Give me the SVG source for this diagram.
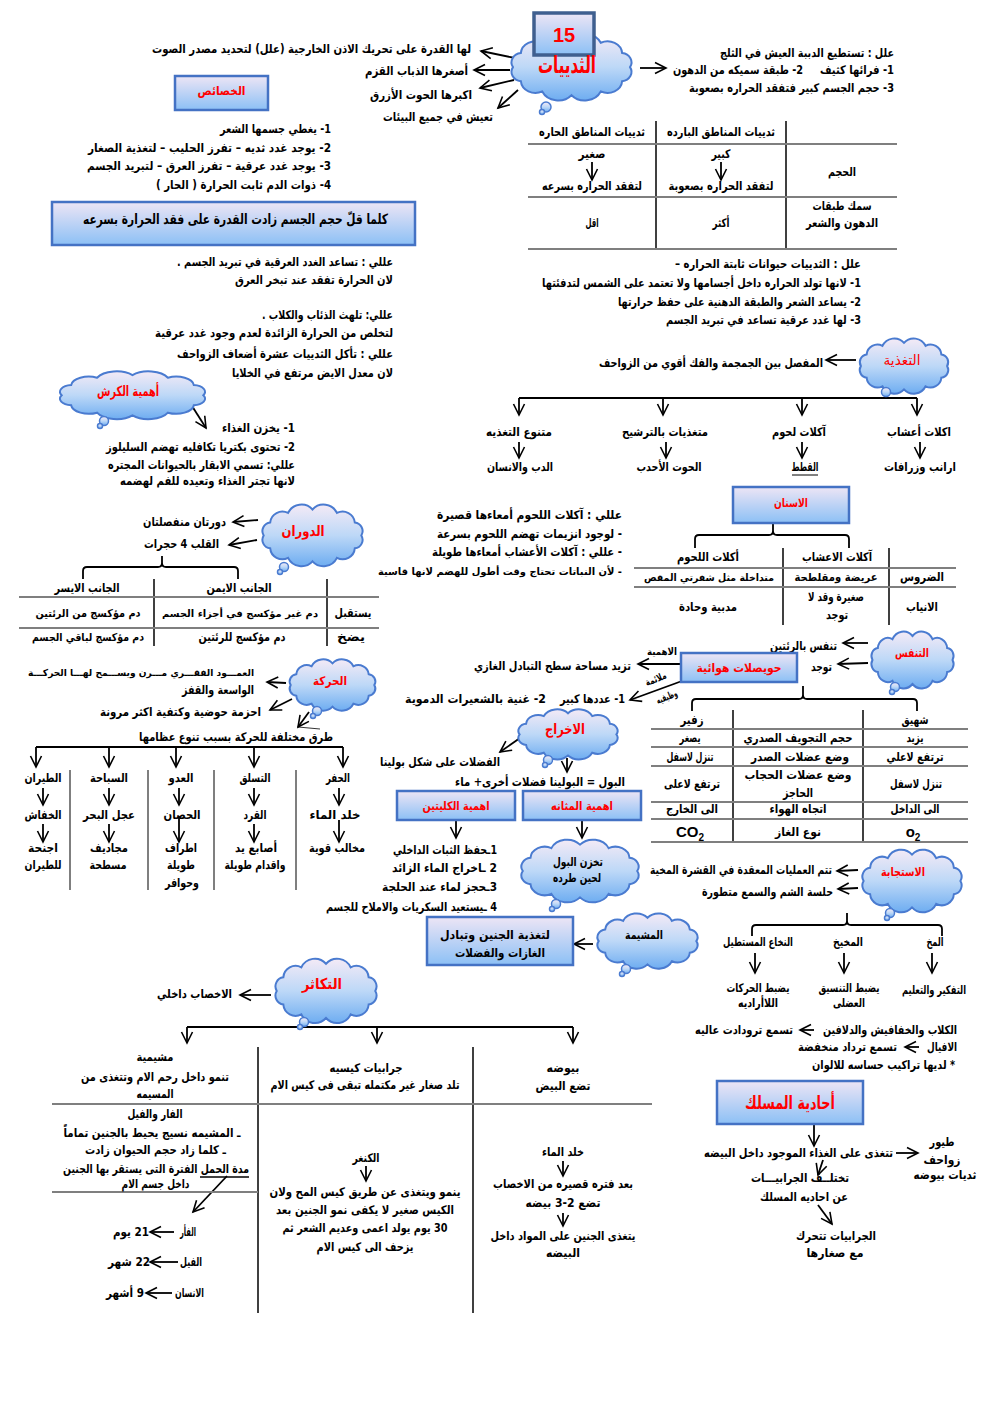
<svg xmlns="http://www.w3.org/2000/svg" width="992" height="1402" viewBox="0 0 992 1402">
<defs>
<linearGradient id="gc" x1="0" y1="0" x2="0" y2="1"><stop offset="0" stop-color="#F4EAF6"/><stop offset="0.5" stop-color="#BDD8F7"/><stop offset="1" stop-color="#6EADF1"/></linearGradient>
<linearGradient id="gb" x1="0" y1="0" x2="0" y2="1"><stop offset="0" stop-color="#EDE5F5"/><stop offset="1" stop-color="#8CC0F5"/></linearGradient>
<path id="cl" vector-effect="non-scaling-stroke" d="M6,30 A8,8 0 0 1 11.9,18 A11,11 0 0 1 28,9.2 A13.3,13.3 0 0 1 50,6 A13.3,13.3 0 0 1 72,9.2 A11,11 0 0 1 88.1,18 A8,8 0 0 1 94,30 A8,8 0 0 1 88.1,42 A11,11 0 0 1 72,50.8 A13.3,13.3 0 0 1 50,54 A13.3,13.3 0 0 1 28,50.8 A11,11 0 0 1 11.9,42 A8,8 0 0 1 6,30 Z"/>
<marker id="ah" viewBox="0 0 12 12" refX="11" refY="6" markerWidth="12" markerHeight="12" markerUnits="userSpaceOnUse" orient="auto" overflow="visible"><path d="M0,0.5 L11,6 L0,11.5" fill="none" stroke="#000" stroke-width="1.6"/></marker>
</defs>
<style>
text{font-family:'DejaVu Sans','Liberation Sans',sans-serif;font-weight:bold;font-size:12px;fill:#000;direction:rtl;text-anchor:middle}
.rd{fill:#F00}
.t14{font-size:14px}
.t11{font-size:11px}
.t10{font-size:10px}
.sm{font-size:10px}
.lt{font-family:'Liberation Sans',sans-serif;direction:ltr}
.cl{fill:url(#gc);stroke:#4A7BD0;stroke-width:2}
.bx{fill:url(#gb);stroke:#4472C4;stroke-width:2.5}
.bub{fill:url(#gc);stroke:#4A7BD0;stroke-width:1.5}
.ln{stroke:#000;stroke-width:1.8;fill:none}
.a{stroke:#000;stroke-width:1.8;fill:none;marker-end:url(#ah)}
.gl{stroke:#7F7F7F;stroke-width:2}
.vl{stroke:#000;stroke-width:1.5}
</style>
<rect width="992" height="1402" fill="#fff"/>

<g id="connectors">
<line class="a" x1="515" y1="58" x2="481" y2="51"/>
<line class="a" x1="510" y1="70" x2="474" y2="70"/>
<line class="a" x1="514" y1="80" x2="480" y2="88"/>
<line class="a" x1="518" y1="90" x2="498" y2="108"/>
<line class="a" x1="640" y1="68" x2="666" y2="68"/>
<line class="a" x1="592" y1="162" x2="592" y2="180"/>
<line class="a" x1="721" y1="162" x2="721" y2="180"/>
<line class="a" x1="192" y1="406" x2="206" y2="428"/>
<line class="a" x1="856" y1="360" x2="826" y2="360"/>
<line class="ln" x1="519" y1="398" x2="917" y2="398"/>
<line class="a" x1="519" y1="398" x2="519" y2="415"/>
<line class="a" x1="663" y1="398" x2="663" y2="415"/>
<line class="a" x1="802" y1="398" x2="802" y2="415"/>
<line class="a" x1="917" y1="398" x2="917" y2="415"/>
<line class="a" x1="519" y1="442" x2="519" y2="458"/>
<line class="a" x1="666" y1="442" x2="666" y2="458"/>
<line class="a" x1="802" y1="442" x2="802" y2="458"/>
<line class="a" x1="920" y1="442" x2="920" y2="458"/>
<path class="ln" d="M695,548 V539 Q695,535 699,535 H769 Q773,535 773,531 V523 M773,531 Q773,535 777,535 H845 Q849,535 849,539 V548"/>
<line class="a" x1="258" y1="520" x2="233" y2="522"/>
<line class="a" x1="257" y1="540" x2="229" y2="545"/>
<path class="ln" d="M83,579 V571 Q83,567 87,567 H158 Q162,567 162,563 V556 M162,563 Q162,567 166,567 H234 Q238,567 238,571 V579"/>
<line class="a" x1="286" y1="683" x2="267" y2="682"/>
<line class="a" x1="292" y1="699" x2="270" y2="710"/>
<line class="a" x1="309" y1="712" x2="298" y2="727"/>
<line x1="298" y1="727" x2="320" y2="729" stroke="#000" stroke-width="0.8"/>
<line class="ln" x1="36" y1="747" x2="343" y2="747"/>
<line class="a" x1="36" y1="747" x2="36" y2="767"/>
<line class="a" x1="109" y1="747" x2="109" y2="767"/>
<line class="a" x1="176" y1="747" x2="176" y2="767"/>
<line class="a" x1="254" y1="747" x2="254" y2="767"/>
<line class="a" x1="343" y1="747" x2="343" y2="767"/>
<line class="a" x1="43" y1="788" x2="43" y2="805"/>
<line class="a" x1="109" y1="788" x2="109" y2="805"/>
<line class="a" x1="179" y1="788" x2="179" y2="805"/>
<line class="a" x1="254" y1="788" x2="254" y2="805"/>
<line class="a" x1="339" y1="788" x2="339" y2="805"/>
<line class="a" x1="43" y1="824" x2="43" y2="842"/>
<line class="a" x1="109" y1="824" x2="109" y2="842"/>
<line class="a" x1="179" y1="816" x2="179" y2="842"/>
<line class="a" x1="254" y1="824" x2="254" y2="842"/>
<line class="a" x1="339" y1="820" x2="339" y2="842"/>
<line class="a" x1="868" y1="643" x2="843" y2="643"/>
<line class="a" x1="868" y1="663" x2="838" y2="664"/>
<line class="a" x1="681" y1="664" x2="638" y2="664"/>
<line class="a" x1="682" y1="681" x2="630" y2="700"/>
<path class="ln" d="M692,711 V703 Q692,699 696,699 H799 Q803,699 803,695 V686 M803,695 Q803,699 807,699 H913 Q917,699 917,703 V711"/>
<line class="a" x1="520" y1="738" x2="500" y2="752"/>
<line class="a" x1="567" y1="758" x2="567" y2="772"/>
<line class="a" x1="456" y1="821" x2="456" y2="838"/>
<line class="a" x1="582" y1="821" x2="582" y2="838"/>
<line class="a" x1="593" y1="944" x2="574" y2="944"/>
<line class="a" x1="858" y1="870" x2="837" y2="871"/>
<line class="a" x1="858" y1="888" x2="838" y2="889"/>
<path class="ln" d="M752,936 V929 Q752,925 756,925 H843 Q847,925 847,921 V913 M847,921 Q847,925 851,925 H938 Q942,925 942,929 V936"/>
<line class="a" x1="755" y1="953" x2="755" y2="973"/>
<line class="a" x1="844" y1="953" x2="844" y2="973"/>
<line class="a" x1="932" y1="953" x2="932" y2="973"/>
<line class="a" x1="814" y1="1030" x2="800" y2="1030"/>
<line class="a" x1="919" y1="1047" x2="905" y2="1047"/>
<line class="a" x1="814" y1="1125" x2="814" y2="1146"/>
<line class="a" x1="896" y1="1153" x2="918" y2="1153"/>
<line class="a" x1="823" y1="1160" x2="818" y2="1175"/>
<line class="a" x1="818" y1="1205" x2="832" y2="1224"/>
<line class="a" x1="271" y1="995" x2="240" y2="995"/>
<line class="ln" x1="187" y1="1027" x2="573" y2="1027"/>
<line class="a" x1="187" y1="1027" x2="187" y2="1043"/>
<line class="a" x1="377" y1="1027" x2="377" y2="1043"/>
<line class="a" x1="573" y1="1027" x2="573" y2="1043"/>
<line class="a" x1="366" y1="1166" x2="366" y2="1181"/>
<line class="a" x1="563" y1="1161" x2="563" y2="1176"/>
<line class="a" x1="563" y1="1213" x2="563" y2="1226"/>
<line class="a" x1="227" y1="1176" x2="193" y2="1212"/>
<line class="a" x1="174" y1="1232" x2="150" y2="1232"/>
<line class="a" x1="178" y1="1262" x2="150" y2="1262"/>
<line class="a" x1="172" y1="1293" x2="146" y2="1293"/>
</g>

<g id="n-mammals">
<use href="#cl" class="cl" transform="translate(505,32) scale(1.33,1.17)"/>
<circle cx="546" cy="107" r="5" class="bub"/><circle cx="542" cy="112" r="2.5" class="bub"/>
<rect x="534" y="13" width="60" height="42" fill="url(#gb)" stroke="#3F5F8F" stroke-width="3.5"/>
<text x="564" y="42" class="lt rd" style="font-size:20px">15</text>
<text x="567" y="73" class="rd" style="font-size:24px" textLength="58" lengthAdjust="spacingAndGlyphs">الثدييات</text>
</g>

<g id="n-facts-left">
<text x="311.5" y="53" textLength="319" lengthAdjust="spacingAndGlyphs">لها القدرة على تحريك الاذن الخارجية (علل) لتحديد مصدر الصوت</text>
<text x="416.5" y="75" textLength="103" lengthAdjust="spacingAndGlyphs">أصغرها  الذباب القزم</text>
<text x="421" y="99" textLength="102" lengthAdjust="spacingAndGlyphs">اكبرها الحوت الأزرق</text>
<text x="438" y="121" textLength="110" lengthAdjust="spacingAndGlyphs">تعيش في جميع البيئات</text>
</g>

<g id="n-bears">
<text x="807" y="57" textLength="174" lengthAdjust="spacingAndGlyphs">علل : تستطيع الدببة العيش في الثلج</text>
<text x="857" y="74" textLength="74" lengthAdjust="spacingAndGlyphs">1- فرائها كثيف</text>
<text x="738" y="74" textLength="130" lengthAdjust="spacingAndGlyphs">2- طبقة سميكه من الدهون</text>
<text x="791.5" y="92" textLength="205" lengthAdjust="spacingAndGlyphs">3- حجم الجسم كبير فتفقد الحراره بصعوبة</text>
</g>

<g id="n-features">
<rect x="175" y="76" width="93" height="34" class="bx"/>
<text x="221.5" y="95" class="rd" textLength="48" lengthAdjust="spacingAndGlyphs">الخصائص</text>
<text x="275.5" y="133" textLength="111" lengthAdjust="spacingAndGlyphs">1- يغطي جسمها الشعر</text>
<text x="209.5" y="152" textLength="243" lengthAdjust="spacingAndGlyphs">2- يوجد  غدد ثديه – تفرز الحليب – لتغذية الصغار</text>
<text x="209" y="170" textLength="244" lengthAdjust="spacingAndGlyphs">3- يوجد  غدد عرقية – تفرز العرق – لتبريد الجسم</text>
<text x="243.5" y="189" textLength="175" lengthAdjust="spacingAndGlyphs">4- ذوات الدم ثابت الحرارة ( الحار )</text>
</g>

<g id="n-size-rule">
<rect x="52" y="202" width="363" height="43" class="bx"/>
<text x="235.5" y="224" class="t14" textLength="305" lengthAdjust="spacingAndGlyphs">كلما قلّ حجم الجسم زادت القدرة على فقد الحرارة بسرعه</text>
</g>

<g id="n-table-climate">
<line class="vl" x1="656" y1="121" x2="656" y2="249"/>
<line class="vl" x1="786" y1="121" x2="786" y2="249"/>
<line class="gl" x1="528" y1="144" x2="897" y2="144"/>
<line class="gl" x1="528" y1="197" x2="897" y2="197"/>
<line class="gl" x1="528" y1="249" x2="897" y2="249"/>
<text x="592" y="136" textLength="106" lengthAdjust="spacingAndGlyphs">ثدييات المناطق الحاره</text>
<text x="721" y="136" textLength="108" lengthAdjust="spacingAndGlyphs">ثدييات المناطق البارده</text>
<text x="592" y="158" textLength="27" lengthAdjust="spacingAndGlyphs">صغير</text>
<text x="592" y="190" textLength="100" lengthAdjust="spacingAndGlyphs">لتفقد الحراره بسرعه</text>
<text x="721" y="158" textLength="19" lengthAdjust="spacingAndGlyphs">كبير</text>
<text x="721" y="190" textLength="105" lengthAdjust="spacingAndGlyphs">لتفقد الحراره بصعوبة</text>
<text x="842" y="176" textLength="28" lengthAdjust="spacingAndGlyphs">الحجم</text>
<text x="842" y="210" textLength="59" lengthAdjust="spacingAndGlyphs">سمك طبقات</text>
<text x="842" y="227" textLength="72" lengthAdjust="spacingAndGlyphs">الدهون والشعر</text>
<text x="592" y="227" textLength="13" lengthAdjust="spacingAndGlyphs">اقل</text>
<text x="721" y="227" textLength="17" lengthAdjust="spacingAndGlyphs">أكثر</text>
</g>

<g id="n-constant-temp">
<text x="768" y="268" textLength="186" lengthAdjust="spacingAndGlyphs">علل : الثدييات حيوانات ثابتة الحراره –</text>
<text x="701.5" y="287" textLength="319" lengthAdjust="spacingAndGlyphs">1- لانها تولد الحراره داخل أجسامها ولا تعتمد على الشمس لتدفئتها</text>
<text x="739.5" y="306" textLength="243" lengthAdjust="spacingAndGlyphs">2- يساعد الشعر والطبقة الدهنية على حفظ حرارتها</text>
<text x="763.5" y="324" textLength="195" lengthAdjust="spacingAndGlyphs">3- لها غدد عرقية تساعد في تبريد الجسم</text>
</g>

<g id="n-reasons-left">
<text x="285" y="266" textLength="216" lengthAdjust="spacingAndGlyphs">عللي : تساعد الغدد العرقية في تبريد الجسم .</text>
<text x="314" y="284" textLength="158" lengthAdjust="spacingAndGlyphs">لان الحرارة تفقد عند تبخر العرق</text>
<text x="327.5" y="319" textLength="131" lengthAdjust="spacingAndGlyphs">عللي: تلهث الذئاب والكلاب .</text>
<text x="274" y="337" textLength="238" lengthAdjust="spacingAndGlyphs">لتخلص من الحرارة الزائدة لعدم وجود غدد عرقية</text>
<text x="285" y="358" textLength="216" lengthAdjust="spacingAndGlyphs">عللي : تأكل الثدييات عشرة أضعاف الزواحف</text>
<text x="312.5" y="377" textLength="161" lengthAdjust="spacingAndGlyphs">لان معدل الايض مرتفع في الخلايا</text>
</g>

<g id="n-rumen">
<use href="#cl" class="cl" transform="translate(52,370) scale(1.61,0.84)"/>
<circle cx="104" cy="421" r="4.5" class="bub"/><circle cx="100" cy="426" r="2.5" class="bub"/>
<text x="128" y="396" class="rd t14" textLength="62" lengthAdjust="spacingAndGlyphs">أهمية الكرش</text>
<text x="258.5" y="432" textLength="73" lengthAdjust="spacingAndGlyphs">1- يخزن الغذاء</text>
<text x="200.5" y="451" textLength="189" lengthAdjust="spacingAndGlyphs">2- تحتوى بكتريا تكافليه تهضم السليلوز</text>
<text x="201.5" y="469" textLength="187" lengthAdjust="spacingAndGlyphs">عللي: تسمي الابقار بالحيوانات المجتره</text>
<text x="207.5" y="485" textLength="175" lengthAdjust="spacingAndGlyphs">لانها تجتر الغذاء وتعيده للفم لهضمه</text>
</g>

<g id="n-nutrition">
<use href="#cl" class="cl" transform="translate(855,337) scale(0.98,0.97)"/>
<circle cx="886" cy="392" r="4.5" class="bub"/>
<text x="902" y="365" class="rd t14" style="font-weight:normal" textLength="37" lengthAdjust="spacingAndGlyphs">التغذية</text>
<text x="711" y="367" textLength="224" lengthAdjust="spacingAndGlyphs">المفصل بين الجمجمة والفك أقوي من الزواحف</text>
<text x="519" y="436" textLength="66" lengthAdjust="spacingAndGlyphs">متنوع التغذيه</text>
<text x="665" y="436" textLength="86" lengthAdjust="spacingAndGlyphs">متغذيات بالترشيح</text>
<text x="799" y="436" textLength="54" lengthAdjust="spacingAndGlyphs">آكلات لحوم</text>
<text x="919" y="436" textLength="64" lengthAdjust="spacingAndGlyphs">اكلات أعشاب</text>
<text x="520" y="471" textLength="66" lengthAdjust="spacingAndGlyphs">الدب والانسان</text>
<text x="669" y="471" textLength="65" lengthAdjust="spacingAndGlyphs">الحوت الأحدب</text>
<text x="805" y="471" textLength="27" lengthAdjust="spacingAndGlyphs">القطط</text>
<line x1="792" y1="475" x2="818" y2="475" stroke="#000" stroke-width="1"/>
<text x="920" y="471" textLength="72" lengthAdjust="spacingAndGlyphs">ارانب وزرافات</text>
</g>

<g id="n-teeth">
<rect x="733" y="487" width="116" height="36" class="bx"/>
<text x="791" y="507" class="rd" textLength="34" lengthAdjust="spacingAndGlyphs">الاسنان</text>
<line class="vl" x1="783" y1="548" x2="783" y2="625"/>
<line class="vl" x1="889" y1="548" x2="889" y2="625"/>
<line class="gl" x1="634" y1="568" x2="956" y2="568"/>
<line class="gl" x1="634" y1="587" x2="956" y2="587"/>
<text x="708" y="561" textLength="62" lengthAdjust="spacingAndGlyphs">أكلات اللحوم</text>
<text x="837" y="561" textLength="70" lengthAdjust="spacingAndGlyphs">آكلات الاعشاب</text>
<text x="922" y="581" textLength="44" lengthAdjust="spacingAndGlyphs">الضروس</text>
<text x="836" y="581" class="t11" textLength="83" lengthAdjust="spacingAndGlyphs">عريضة ومقلطحة</text>
<text x="709" y="581" class="t10" textLength="130" lengthAdjust="spacingAndGlyphs">متداخلة مثل شفرتي المقص</text>
<text x="922" y="611" textLength="32" lengthAdjust="spacingAndGlyphs">الانياب</text>
<text x="836" y="601" textLength="56" lengthAdjust="spacingAndGlyphs">صغيرة وقد لا</text>
<text x="837" y="619" textLength="22" lengthAdjust="spacingAndGlyphs">توجد</text>
<text x="708" y="611" textLength="58" lengthAdjust="spacingAndGlyphs">مدبية وحادة</text>
</g>

<g id="n-intestines">
<text x="529.5" y="519" textLength="185" lengthAdjust="spacingAndGlyphs">عللي : آكلات اللحوم أمعاءها قصيرة</text>
<text x="529.5" y="538" textLength="185" lengthAdjust="spacingAndGlyphs">- لوجود انزيمات تهضم اللحوم بسرعة</text>
<text x="527" y="556" textLength="190" lengthAdjust="spacingAndGlyphs">- عللي : آكلات الأعشاب أمعاءها طويلة</text>
<text x="500" y="575" class="t10" textLength="244" lengthAdjust="spacingAndGlyphs">- لأن النباتات تحتاج وقت أطول للهضم لانها قاسية</text>
</g>

<g id="n-circulation">
<use href="#cl" class="cl" transform="translate(257,503) scale(1.11,1.08)"/>
<circle cx="284" cy="567" r="4.5" class="bub"/><circle cx="280" cy="572" r="2.5" class="bub"/>
<text x="303" y="536" class="rd t14" textLength="43" lengthAdjust="spacingAndGlyphs">الدوران</text>
<text x="184.5" y="526" textLength="83" lengthAdjust="spacingAndGlyphs">دورتان منفصلتان</text>
<text x="181.5" y="548" textLength="75" lengthAdjust="spacingAndGlyphs">القلب 4 حجرات</text>
<line class="vl" x1="154" y1="579" x2="154" y2="646"/>
<line class="vl" x1="327" y1="579" x2="327" y2="646"/>
<line class="gl" x1="19" y1="597" x2="379" y2="597"/>
<line class="gl" x1="19" y1="628" x2="379" y2="628"/>
<text x="87" y="592" textLength="65" lengthAdjust="spacingAndGlyphs">الجانب الايسر</text>
<text x="239" y="592" textLength="65" lengthAdjust="spacingAndGlyphs">الجانب الايمن</text>
<text x="353" y="617" textLength="37" lengthAdjust="spacingAndGlyphs">يستقبل</text>
<text x="240" y="617" class="t10" textLength="156" lengthAdjust="spacingAndGlyphs">دم غير مؤكسج في أجزاء الجسم</text>
<text x="88" y="617" class="t11" textLength="105" lengthAdjust="spacingAndGlyphs">دم مؤكسج من الرئتين</text>
<text x="351" y="641" textLength="28" lengthAdjust="spacingAndGlyphs">يضخ</text>
<text x="242" y="641" textLength="87" lengthAdjust="spacingAndGlyphs">دم مؤكسج للرئتين</text>
<text x="88" y="641" class="t11" textLength="112" lengthAdjust="spacingAndGlyphs">دم مؤكسج لباقي الجسم</text>
</g>

<g id="n-movement">
<use href="#cl" class="cl" transform="translate(285,658) scale(0.95,0.9)"/>
<circle cx="317" cy="711" r="4.5" class="bub"/><circle cx="313" cy="716" r="2.5" class="bub"/>
<text x="330" y="685" class="rd" textLength="34" lengthAdjust="spacingAndGlyphs">الحركة</text>
<text x="141" y="676" style="font-size:9.5px" textLength="226" lengthAdjust="spacingAndGlyphs">العمـــود الفقـــري مـــرن ويســـمح لهـــا الحركـــة</text>
<text x="218" y="694" textLength="72" lengthAdjust="spacingAndGlyphs">الواسعة والقفز</text>
<text x="180.5" y="716" textLength="161" lengthAdjust="spacingAndGlyphs">احزمة حوضية وكتفية اكثر مرونة</text>
<text x="236" y="741" textLength="194" lengthAdjust="spacingAndGlyphs">طرق مختلفة للحركة بسبب تنوع عظامها</text>
<line class="gl" x1="70" y1="770" x2="70" y2="890"/>
<line class="gl" x1="148" y1="770" x2="148" y2="890"/>
<line class="gl" x1="214" y1="770" x2="214" y2="890"/>
<line class="gl" x1="296" y1="770" x2="296" y2="890"/>
<text x="43" y="782" textLength="37" lengthAdjust="spacingAndGlyphs">الطيران</text>
<text x="109" y="782" textLength="38" lengthAdjust="spacingAndGlyphs">السباحة</text>
<text x="181" y="782" textLength="25" lengthAdjust="spacingAndGlyphs">العدو</text>
<text x="255" y="782" textLength="31" lengthAdjust="spacingAndGlyphs">التسلق</text>
<text x="338" y="782" textLength="24" lengthAdjust="spacingAndGlyphs">الحفر</text>
<text x="43" y="819" textLength="37" lengthAdjust="spacingAndGlyphs">الخفاش</text>
<text x="109" y="819" textLength="52" lengthAdjust="spacingAndGlyphs">عجل البحر</text>
<text x="182" y="819" textLength="37" lengthAdjust="spacingAndGlyphs">الحصان</text>
<text x="255" y="819" textLength="23" lengthAdjust="spacingAndGlyphs">القرد</text>
<text x="335" y="819" textLength="51" lengthAdjust="spacingAndGlyphs">خلد  الماء</text>
<text x="43" y="852" textLength="30" lengthAdjust="spacingAndGlyphs">اجنحة</text>
<text x="43" y="869" textLength="37" lengthAdjust="spacingAndGlyphs">للطيران</text>
<text x="109" y="852" textLength="38" lengthAdjust="spacingAndGlyphs">مجاديف</text>
<text x="108" y="869" textLength="37" lengthAdjust="spacingAndGlyphs">مسطحة</text>
<text x="181" y="852" textLength="32" lengthAdjust="spacingAndGlyphs">اطراف</text>
<text x="181" y="869" textLength="28" lengthAdjust="spacingAndGlyphs">طويلة</text>
<text x="182" y="887" textLength="34" lengthAdjust="spacingAndGlyphs">وحوافر</text>
<text x="256" y="852" textLength="42" lengthAdjust="spacingAndGlyphs">أصابع يد</text>
<text x="255" y="869" textLength="61" lengthAdjust="spacingAndGlyphs">واقدام طويلة</text>
<text x="337" y="852" textLength="56" lengthAdjust="spacingAndGlyphs">مخالب قوية</text>
</g>

<g id="n-respiration">
<use href="#cl" class="cl" transform="translate(867,630) scale(0.91,1.0)"/>
<circle cx="895" cy="687" r="4.5" class="bub"/><circle cx="892" cy="692" r="2.5" class="bub"/>
<text x="912" y="657" class="rd" textLength="34" lengthAdjust="spacingAndGlyphs">التنفس</text>
<text x="803.5" y="650" textLength="67" lengthAdjust="spacingAndGlyphs">تنفس بالرئتين</text>
<text x="821.5" y="671" textLength="21" lengthAdjust="spacingAndGlyphs">توجد</text>
</g>

<g id="n-alveoli">
<rect x="681" y="653" width="116" height="29" class="bx"/>
<text x="739" y="672" class="rd" textLength="85" lengthAdjust="spacingAndGlyphs">حويصلات هوائية</text>
<text x="662" y="655" class="sm" textLength="30" lengthAdjust="spacingAndGlyphs">الاهمية</text>
<text x="552.5" y="670" textLength="157" lengthAdjust="spacingAndGlyphs">تزيد مساحة سطح التبادل الغازي</text>
<text class="sm" transform="translate(657,682) rotate(-22)" textLength="22" lengthAdjust="spacingAndGlyphs">ملائمة</text>
<text class="sm" transform="translate(668,700) rotate(-22)" textLength="22" lengthAdjust="spacingAndGlyphs">وظيفيه</text>
<text x="592.5" y="703" textLength="65" lengthAdjust="spacingAndGlyphs">1- عددها كبير</text>
<text x="475.5" y="703" textLength="141" lengthAdjust="spacingAndGlyphs">2- غنية بالشعيرات الدموية</text>
</g>

<g id="n-table-breathing">
<line class="vl" x1="733" y1="710" x2="733" y2="842"/>
<line class="vl" x1="863" y1="710" x2="863" y2="842"/>
<line class="gl" x1="651" y1="729" x2="968" y2="729"/>
<line class="gl" x1="651" y1="747" x2="968" y2="747"/>
<line class="gl" x1="651" y1="766" x2="968" y2="766"/>
<line class="gl" x1="651" y1="802" x2="968" y2="802"/>
<line class="gl" x1="651" y1="819" x2="968" y2="819"/>
<line class="gl" x1="651" y1="842" x2="968" y2="842"/>
<text x="692" y="724" textLength="23" lengthAdjust="spacingAndGlyphs">زفير</text>
<text x="915" y="724" textLength="27" lengthAdjust="spacingAndGlyphs">شهيق</text>
<text x="690" y="742" textLength="21" lengthAdjust="spacingAndGlyphs">يصغر</text>
<text x="798" y="742" textLength="109" lengthAdjust="spacingAndGlyphs">حجم التجويف الصدري</text>
<text x="915" y="742" textLength="17" lengthAdjust="spacingAndGlyphs">يزيد</text>
<text x="690" y="761" textLength="47" lengthAdjust="spacingAndGlyphs">تنزل لاسفل</text>
<text x="800" y="761" textLength="98" lengthAdjust="spacingAndGlyphs">وضع عضلات الصدر</text>
<text x="915" y="761" textLength="57" lengthAdjust="spacingAndGlyphs">ترتفع لاعلي</text>
<text x="692" y="788" textLength="56" lengthAdjust="spacingAndGlyphs">ترتفع لاعلى</text>
<text x="798" y="779" textLength="107" lengthAdjust="spacingAndGlyphs">وضع عضلات الحجاب</text>
<text x="798" y="797" textLength="30" lengthAdjust="spacingAndGlyphs">الحاجز</text>
<text x="916" y="788" textLength="52" lengthAdjust="spacingAndGlyphs">تنزل لاسفل</text>
<text x="692" y="813" textLength="52" lengthAdjust="spacingAndGlyphs">الى الخارج</text>
<text x="798" y="813" textLength="57" lengthAdjust="spacingAndGlyphs">اتجاه الهواء</text>
<text x="915" y="813" textLength="49" lengthAdjust="spacingAndGlyphs">الى الداخل</text>
<text x="690" y="837" class="lt" style="font-size:15px">CO<tspan dy="4" style="font-size:10px">2</tspan></text>
<text x="798" y="836" textLength="46" lengthAdjust="spacingAndGlyphs">نوع الغاز</text>
<text x="913" y="837" class="lt" style="font-size:15px">o<tspan dy="4" style="font-size:10px">2</tspan></text>
</g>

<g id="n-excretion">
<use href="#cl" class="cl" transform="translate(513,708) scale(1.1,0.88)"/>
<circle cx="548" cy="760" r="4.5" class="bub"/><circle cx="545" cy="765" r="2.5" class="bub"/>
<text x="565" y="734" class="rd t14" textLength="40" lengthAdjust="spacingAndGlyphs">الاخراج</text>
<text x="440" y="766" textLength="120" lengthAdjust="spacingAndGlyphs">الفضلات على شكل بولينا</text>
<text x="540" y="786" textLength="170" lengthAdjust="spacingAndGlyphs">البول = البولينا فضلات أخرى+ ماء</text>
</g>

<g id="n-kidneys">
<rect x="397" y="791" width="118" height="29" class="bx"/>
<text x="456" y="810" class="rd" textLength="67" lengthAdjust="spacingAndGlyphs">اهمية الكليتين</text>
<text x="445" y="854" textLength="104" lengthAdjust="spacingAndGlyphs">1ـحفظ الثبات الداخلي</text>
<text x="444.5" y="872" textLength="105" lengthAdjust="spacingAndGlyphs">2 ـاخراج الماء الزائد</text>
<text x="439.5" y="891" textLength="115" lengthAdjust="spacingAndGlyphs">3ـحجز لماء عند الحلجة</text>
<text x="411.5" y="911" textLength="171" lengthAdjust="spacingAndGlyphs">4 ـيستعيد السكريات والاملاح للجسم</text>
</g>

<g id="n-bladder">
<rect x="523" y="791" width="118" height="29" class="bx"/>
<text x="582" y="810" class="rd" textLength="62" lengthAdjust="spacingAndGlyphs">اهمية المثانه</text>
<use href="#cl" class="cl" transform="translate(515,838) scale(1.3,1.1)"/>
<circle cx="556" cy="904" r="4.5" class="bub"/><circle cx="552" cy="909" r="2.5" class="bub"/>
<text x="578" y="866" textLength="50" lengthAdjust="spacingAndGlyphs">تخزن البول</text>
<text x="577" y="882" textLength="48" lengthAdjust="spacingAndGlyphs">لحين طرده</text>
</g>

<g id="n-placenta">
<use href="#cl" class="cl" transform="translate(592,912) scale(1.11,0.97)"/>
<circle cx="626" cy="969" r="4.5" class="bub"/><circle cx="622" cy="974" r="2.5" class="bub"/>
<text x="644" y="939" textLength="38" lengthAdjust="spacingAndGlyphs">المشيمة</text>
<rect x="427" y="917" width="146" height="48" class="bx"/>
<text x="495" y="939" textLength="110" lengthAdjust="spacingAndGlyphs">لتغذية الجنين وتبادل</text>
<text x="500" y="957" textLength="90" lengthAdjust="spacingAndGlyphs">الغازات والفضلات</text>
</g>

<g id="n-response">
<use href="#cl" class="cl" transform="translate(857,848) scale(1.1,1.1)"/>
<circle cx="890" cy="913" r="4.5" class="bub"/><circle cx="887" cy="918" r="2.5" class="bub"/>
<text x="903" y="876" class="rd" textLength="44" lengthAdjust="spacingAndGlyphs">الاستجابة</text>
<text x="741" y="874" textLength="182" lengthAdjust="spacingAndGlyphs">تتم العمليات المعقدة في القشرة المخية</text>
<text x="767.5" y="896" textLength="131" lengthAdjust="spacingAndGlyphs">حلسة الشم والسمع متطورة</text>
<text x="758" y="946" textLength="70" lengthAdjust="spacingAndGlyphs">النخاع المستطيل</text>
<text x="848" y="946" textLength="30" lengthAdjust="spacingAndGlyphs">المخيخ</text>
<text x="935" y="946" textLength="17" lengthAdjust="spacingAndGlyphs">المخ</text>
<text x="758" y="992" textLength="63" lengthAdjust="spacingAndGlyphs">يضبط الحركات</text>
<text x="758" y="1007" textLength="40" lengthAdjust="spacingAndGlyphs">اللاأراديه</text>
<text x="849" y="992" textLength="61" lengthAdjust="spacingAndGlyphs">يضبط التنسيق</text>
<text x="849" y="1007" textLength="32" lengthAdjust="spacingAndGlyphs">العضلى</text>
<text x="934" y="994" textLength="64" lengthAdjust="spacingAndGlyphs">التفكير والتعليم</text>
<text x="890" y="1034" textLength="134" lengthAdjust="spacingAndGlyphs">الكلاب والخفافيش والدلافين</text>
<text x="744" y="1034" textLength="98" lengthAdjust="spacingAndGlyphs">تسمع ترودادت عاليه</text>
<text x="942" y="1051" textLength="30" lengthAdjust="spacingAndGlyphs">الافيال</text>
<text x="847.5" y="1051" textLength="99" lengthAdjust="spacingAndGlyphs">تسمع ترداد منخفضة</text>
<text x="883.5" y="1069" textLength="143" lengthAdjust="spacingAndGlyphs">* لديها تراكيب حساسه للالوان</text>
</g>

<g id="n-monotremes">
<rect x="717" y="1081" width="146" height="43" class="bx"/>
<text x="790" y="1109" class="rd" style="font-size:18px" textLength="90" lengthAdjust="spacingAndGlyphs">أحادية المسلك</text>
<text x="798.5" y="1157" textLength="189" lengthAdjust="spacingAndGlyphs">تتغذى على الغذاء الموجود داخل البيضه</text>
<text x="942" y="1146" textLength="25" lengthAdjust="spacingAndGlyphs">طيور</text>
<text x="942" y="1164" textLength="37" lengthAdjust="spacingAndGlyphs">زواحف</text>
<text x="945" y="1179" textLength="63" lengthAdjust="spacingAndGlyphs">ثديات بيوضه</text>
<text x="800" y="1182" textLength="98" lengthAdjust="spacingAndGlyphs">تختلــف الجرابيـــات</text>
<text x="804" y="1201" textLength="88" lengthAdjust="spacingAndGlyphs">عن احاديه المسلك</text>
<text x="836" y="1240" textLength="80" lengthAdjust="spacingAndGlyphs">الجرابيات تتحرك</text>
<text x="835" y="1257" textLength="57" lengthAdjust="spacingAndGlyphs">مع صغارها</text>
</g>

<g id="n-reproduction">
<use href="#cl" class="cl" transform="translate(270,957) scale(1.12,1.13)"/>
<circle cx="304" cy="1022" r="4.5" class="bub"/><circle cx="300" cy="1027" r="2.5" class="bub"/>
<text x="322" y="989" class="rd" style="font-size:15px" textLength="40" lengthAdjust="spacingAndGlyphs">التكاثر</text>
<text x="194.5" y="998" textLength="75" lengthAdjust="spacingAndGlyphs">الاخصاب داخلي</text>
</g>

<g id="n-table-reproduction">
<line class="vl" x1="258" y1="1047" x2="258" y2="1313"/>
<line class="vl" x1="473" y1="1047" x2="473" y2="1313"/>
<line class="gl" x1="52" y1="1104" x2="652" y2="1104"/>
<line class="gl" x1="52" y1="1192" x2="258" y2="1192"/>
<text x="155" y="1061" textLength="37" lengthAdjust="spacingAndGlyphs">مشيمية</text>
<text x="155" y="1081" textLength="148" lengthAdjust="spacingAndGlyphs">تنمو داخل رحم الام وتتغذى من</text>
<text x="155" y="1098" textLength="37" lengthAdjust="spacingAndGlyphs">المسيمه</text>
<text x="155" y="1118" textLength="55" lengthAdjust="spacingAndGlyphs">الفار والفيل</text>
<text x="152" y="1137" textLength="177" lengthAdjust="spacingAndGlyphs">ـ المشيمه نسيج يحيط بالجنين تماماً</text>
<text x="155.5" y="1154" textLength="141" lengthAdjust="spacingAndGlyphs">ـ كلما زاد حجم الحيوان زادت</text>
<text x="156" y="1173" textLength="186" lengthAdjust="spacingAndGlyphs">مدة الحمل الفترة التى يستقر بها الجنين</text>
<line x1="200" y1="1177" x2="249" y2="1177" stroke="#000" stroke-width="1.5"/>
<text x="155.5" y="1188" textLength="68" lengthAdjust="spacingAndGlyphs">داخل جسم الام</text>
<text x="188" y="1236" textLength="16" lengthAdjust="spacingAndGlyphs">الفأر</text>
<text x="131" y="1236" textLength="36" lengthAdjust="spacingAndGlyphs">21 يوم</text>
<text x="191" y="1266" textLength="22" lengthAdjust="spacingAndGlyphs">الفيل</text>
<text x="129" y="1266" textLength="42" lengthAdjust="spacingAndGlyphs">22 شهر</text>
<text x="189.5" y="1297" textLength="29" lengthAdjust="spacingAndGlyphs">الانسان</text>
<text x="125" y="1297" textLength="38" lengthAdjust="spacingAndGlyphs">9 أشهر</text>
<text x="366" y="1072" textLength="73" lengthAdjust="spacingAndGlyphs">جرابيات كيسيه</text>
<text x="365" y="1089" textLength="189" lengthAdjust="spacingAndGlyphs">تلد صغار غير مكتمله تبقى فى كيس الام</text>
<text x="366" y="1162" textLength="27" lengthAdjust="spacingAndGlyphs">الكنغر</text>
<text x="365" y="1196" textLength="191" lengthAdjust="spacingAndGlyphs">ينمو ويتغذى عن طريق كيس المح ولان</text>
<text x="365" y="1214" textLength="178" lengthAdjust="spacingAndGlyphs">الكيس صغير لا يكفى نمو الجنين   بعد</text>
<text x="365" y="1232" textLength="165" lengthAdjust="spacingAndGlyphs">30 يوم يولد اعمى وعديم الشعر ثم</text>
<text x="365" y="1251" textLength="97" lengthAdjust="spacingAndGlyphs">يزحف الى كيس الام</text>
<text x="563" y="1072" textLength="33" lengthAdjust="spacingAndGlyphs">بيوضه</text>
<text x="563" y="1090" textLength="55" lengthAdjust="spacingAndGlyphs">تضع البيض</text>
<text x="563" y="1156" textLength="42" lengthAdjust="spacingAndGlyphs">خلد الماء</text>
<text x="563" y="1188" textLength="140" lengthAdjust="spacingAndGlyphs">بعد فتره قصيره من الاخصاب</text>
<text x="563" y="1207" textLength="75" lengthAdjust="spacingAndGlyphs">تضع 2-3 بيضه</text>
<text x="563" y="1240" textLength="145" lengthAdjust="spacingAndGlyphs">يتغذى الجنين على المواد داخل</text>
<text x="563" y="1257" textLength="34" lengthAdjust="spacingAndGlyphs">البيضه</text>
</g>
</svg>
